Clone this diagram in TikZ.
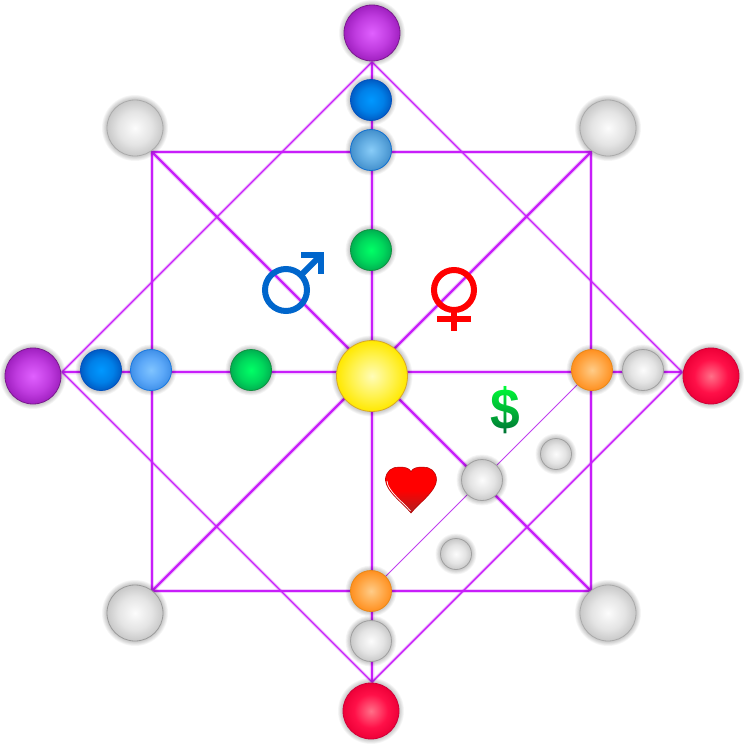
\documentclass[tikz,border=0pt]{standalone}
\usepackage{fontspec}
\usetikzlibrary{backgrounds}
\setmainfont{Liberation Sans}
\definecolor{lnc}{HTML}{C81EFA}
\definecolor{lnthin}{HTML}{C040F0}
\definecolor{maleblue}{HTML}{0066CC}
\definecolor{heartlow}{HTML}{B02020}
\definecolor{dolhi}{HTML}{00FF38}
\definecolor{dolmid}{HTML}{00B040}
\definecolor{dollow}{HTML}{006A34}
\pgfdeclareradialshading[orbA,orbB,orbC]{orbgrad}{\pgfpointorigin}{%
  color(0bp)=(orbA); color(15bp)=(orbB); color(25bp)=(orbC); color(50bp)=(orbC)}
\newcommand{\orb}[9]{%
  % name, x, y, diameter, inner, mid, edge, border, unused
  \definecolor{orbA}{HTML}{#5}\definecolor{orbB}{HTML}{#6}\definecolor{orbC}{HTML}{#7}\definecolor{orbD}{HTML}{#8}%
  \foreach \g in {5,4.2,3.4,2.6,1.8,1}{\fill[black,opacity=.035] (#2,#3) circle ({#4/2+\g});}%
  \node[orbnode,shading=orbgrad,draw=orbD,minimum size=#4pt] (#1) at (#2,#3) {};%
}
\tikzset{
  orbnode/.style={circle,inner sep=0pt,outer sep=0pt,line width=.8pt},
  halo/.style={line width=#1,lnc,opacity=.22},
  linkthick/.style={line width=2.3pt,draw=lnc},
  linkmed/.style={line width=1.7pt,draw=lnc},
  linkthin/.style={line width=1pt,draw=lnthin},
  glyphm/.style={draw=maleblue,line width=6pt},
  glyphf/.style={draw=red,line width=6pt},
}
\begin{document}
\begin{tikzpicture}[x=1pt,y=-1pt]
\useasboundingbox (0,0) rectangle (745,745);
\coordinate (sqTL) at (152,152);
\coordinate (sqTR) at (591,152);
\coordinate (sqBR) at (591,591);
\coordinate (sqBL) at (152,591);
\coordinate (apT) at (372,62);
\coordinate (apR) at (682,372);
\coordinate (apB) at (372,682);
\coordinate (apL) at (62,372);

\orb{pT}{372}{33}{56}{E060FF}{C03CE0}{A020C0}{7A1A8F}{}
\orb{pL}{33}{376}{56}{E060FF}{C03CE0}{A020C0}{7A1A8F}{}
\orb{rR}{711}{376}{56}{FF7088}{FF1048}{EE0038}{D00038}{}
\orb{rB}{371}{711}{56}{FF7088}{FF1048}{EE0038}{D00038}{}
\orb{gTL}{135}{128}{56}{FCFCFC}{E4E4E4}{C8C8C8}{ABABAB}{}
\orb{gTR}{608}{128}{56}{FCFCFC}{E4E4E4}{C8C8C8}{ABABAB}{}
\orb{gBL}{135}{613}{56}{FCFCFC}{E4E4E4}{C8C8C8}{9C9C9C}{}
\orb{gBR}{608}{613}{56}{FCFCFC}{E4E4E4}{C8C8C8}{ABABAB}{}
\orb{bT}{371}{100}{41}{0098FF}{0080E8}{005CC4}{0050C0}{}
\orb{bL}{101}{370}{41}{0098FF}{0080E8}{005CC4}{0050C0}{}
\orb{lT}{371}{150}{41}{88CCF8}{60AAE0}{4490CC}{1070D0}{}
\orb{lL}{151}{370}{41}{80C4FF}{5CA8F8}{4090E8}{1878E0}{}
\orb{nT}{371}{250}{41}{00FF66}{00D85C}{00B050}{109040}{}
\orb{nL}{251}{370}{41}{00FF66}{00D85C}{00B050}{109040}{}
\orb{oR}{592}{370}{41}{FFCC88}{FFA848}{FF9020}{E88818}{}
\orb{oB}{371}{591}{41}{FFCC88}{FFA848}{FF9020}{E88818}{}
\orb{wR}{643}{370}{41}{FCFCFC}{E4E4E4}{C8C8C8}{A0A0A0}{}
\orb{wB}{371}{641}{41}{FCFCFC}{E4E4E4}{C8C8C8}{A0A0A0}{}
\orb{wC}{482}{480}{41}{FCFCFC}{E4E4E4}{C8C8C8}{A0A0A0}{}
\orb{wS1}{556}{454}{31}{FCFCFC}{E4E4E4}{C8C8C8}{A0A0A0}{}
\orb{wS2}{456}{554}{31}{FCFCFC}{E4E4E4}{C8C8C8}{A0A0A0}{}
\orb{hub}{372}{376}{71}{FFFCB8}{FFF24A}{FFE800}{D8A828}{}

\begin{scope}[on background layer]
  \fill[white] (0,0) rectangle (745,745);
  % soft halo under the lines
  \draw[halo=4.5pt] (sqTL) -- (sqTR) -- (sqBR) -- (sqBL) -- cycle;
  \draw[halo=3.5pt] (apT) -- (apR) -- (apB) -- (apL) -- cycle;
  \draw[halo=4.5pt] (sqTL) -- (sqBR) (sqTR) -- (sqBL) (apT) -- (apB) (apL) -- (apR);
  % lines
  \draw[linkmed] (sqTL) -- (sqTR) -- (sqBR) -- (sqBL) -- cycle;
  \draw[linkmed,line width=1.4pt] (apT) -- (apR) -- (apB) -- (apL) -- cycle;
  \draw[linkthick] (sqTL) -- (sqBR);
  \draw[linkthick] (sqTR) -- (sqBL);
  \draw[linkthick] (apT) -- (apB);
  \draw[linkthick] (apL) -- (apR);
  \draw[linkthin] (oR) -- (oB);
\end{scope}

% male symbol
\node[circle,glyphm,minimum size=42pt,inner sep=0pt,outer sep=0pt] (male) at (286,290) {};
\draw[glyphm,miter limit=10] (301,255.2) -- (320.8,255.2) -- (320.8,274);
\draw[glyphm] (320,256) -- (male.45);

% female symbol
\node[circle,glyphf,minimum size=40pt,inner sep=0pt,outer sep=0pt] (female) at (454,290) {};
\coordinate (femEnd) at (454,331);
\coordinate (femL) at (437,319);
\coordinate (femR) at (471,319);
\draw[glyphf] (female.south) -- (femEnd);
\draw[glyphf] (femL) -- (femR);

% heart
\path[top color=red,bottom color=heartlow,middle color=red,draw=red!70!black,line width=.5pt]
  (411,513) .. controls (403,503) and (385.5,491) .. (385.5,480)
  .. controls (385.5,471) and (392,467) .. (399,467)
  .. controls (405,467) and (409,468) .. (411,471.5)
  .. controls (413,468) and (417,467) .. (423,467)
  .. controls (430,467) and (436.5,471) .. (436.5,480)
  .. controls (436.5,491) and (419,503) .. (411,513) -- cycle;
\path[draw=white,line width=.7pt]
  (410.5,511) .. controls (403,502) and (387.5,491) .. (387,481);

% dollar sign
\node[font=\bfseries\fontsize{58}{58}\selectfont,text=black,inner sep=0pt,xscale=.92] (dollar) at (505.5,410.5) {\$};
\begin{scope}[blend mode=screen]
  \shade[top color=dolhi,middle color=dolmid,bottom color=dollow] (488,385) rectangle (523,436);
\end{scope}
\end{tikzpicture}
\end{document}
